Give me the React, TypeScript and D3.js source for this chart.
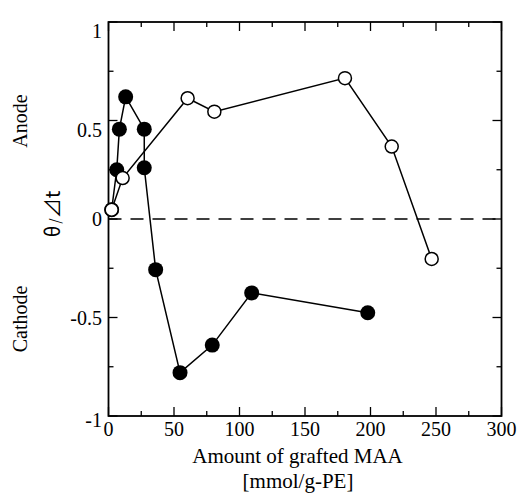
import React from "react";
import * as d3 from "d3";

// filled circles
const filledX = [2.4, 6.3, 8.3, 13.1, 27.3, 27.3, 36, 54.6, 79.2, 109.3, 197.9];
const filledY = [0.047, 0.25, 0.456, 0.62, 0.456, 0.26, -0.257, -0.78, -0.64, -0.375, -0.476];

// open circles
const openX = [2.4, 10.8, 60.4, 80.8, 180.5, 216.2, 246.7];
const openY = [0.047, 0.208, 0.613, 0.545, 0.715, 0.368, -0.203];

const xTicks = [0, 50, 100, 150, 200, 250, 300];
const yTicks = [-1, -0.5, 0, 0.5, 1];
const yTickLabels = ["-1", "-0.5", "0", "0.5", "1"];

const width = 519;
const height = 494;
const margin = { top: 22, right: 17.5, bottom: 78, left: 108.5 };

const App = () => {
  const x = d3
    .scaleLinear()
    .domain([0, 300])
    .range([margin.left, width - margin.right]);
  const y = d3
    .scaleLinear()
    .domain([-1, 1])
    .range([height - margin.bottom, margin.top]);

  const line = d3
    .line<[number, number]>()
    .x((d) => x(d[0]))
    .y((d) => y(d[1]));

  const filled: [number, number][] = filledX.map((v, i) => [v, filledY[i]]);
  const open: [number, number][] = openX.map((v, i) => [v, openY[i]]);

  const xMinor = d3.range(25, 300, 50);
  const yMinor = d3.range(-0.75, 1, 0.5);
  const serif = "'Liberation Serif', 'Times New Roman', serif";

  const x0 = x(0), x1 = x(300), yTop = y(1), yBot = y(-1);
  // the original labels above zero sit a little below their ticks
  const labelShift = (t: number) => (t > 0 ? 9 : t < -0.75 ? 4 : 0);

  return (
    <svg width={width} height={height} style={{ position: "absolute", left: 0, top: 0 }}>
      <rect width={width} height={height} fill="#fff" />
      {/* zero line */}
      <line x1={x0} x2={x1} y1={y(0)} y2={y(0)} stroke="#000" strokeWidth={1.5} strokeDasharray="13 9" />

      {/* ticks */}
      {xTicks.map((t) => (
        <g key={"xt" + t}>
          <line x1={x(t)} x2={x(t)} y1={yBot} y2={yBot - 9} stroke="#000" strokeWidth={1.3} />
          <line x1={x(t)} x2={x(t)} y1={yTop} y2={yTop + 9} stroke="#000" strokeWidth={1.3} />
          <text x={x(t)} y={435.5} textAnchor="middle" fontFamily={serif} fontSize={20}>
            {t}
          </text>
        </g>
      ))}
      {xMinor.map((t) => (
        <g key={"xm" + t}>
          <line x1={x(t)} x2={x(t)} y1={yBot} y2={yBot - 5} stroke="#000" strokeWidth={1.3} />
          <line x1={x(t)} x2={x(t)} y1={yTop} y2={yTop + 5} stroke="#000" strokeWidth={1.3} />
        </g>
      ))}
      {yTicks.map((t, i) => (
        <g key={"yt" + t}>
          <line x1={x0} x2={x0 + 9} y1={y(t)} y2={y(t)} stroke="#000" strokeWidth={1.3} />
          <line x1={x1} x2={x1 - 9} y1={y(t)} y2={y(t)} stroke="#000" strokeWidth={1.3} />
          <text x={x0 - 6.5} y={y(t) + labelShift(t)} dy="0.35em" textAnchor="end" fontFamily={serif} fontSize={20}>
            {yTickLabels[i]}
          </text>
        </g>
      ))}
      {yMinor.map((t) => (
        <g key={"ym" + t}>
          <line x1={x0} x2={x0 + 5} y1={y(t)} y2={y(t)} stroke="#000" strokeWidth={1.3} />
          <line x1={x1} x2={x1 - 5} y1={y(t)} y2={y(t)} stroke="#000" strokeWidth={1.3} />
        </g>
      ))}

      {/* frame */}
      <rect x={x0} y={yTop} width={x1 - x0} height={yBot - yTop} fill="none" stroke="#000" strokeWidth={1.8} />

      {/* series */}
      <path d={line(filled) ?? ""} fill="none" stroke="#000" strokeWidth={1.5} />
      <path d={line(open) ?? ""} fill="none" stroke="#000" strokeWidth={1.5} />
      {filled.map((d, i) => (
        <circle key={"f" + i} cx={x(d[0])} cy={y(d[1])} r={7.5} fill="#000" />
      ))}
      {open.map((d, i) => (
        <circle key={"o" + i} cx={x(d[0])} cy={y(d[1])} r={6.5} fill="#fff" stroke="#000" strokeWidth={1.5} />
      ))}

      {/* labels */}
      <text x={297.5} y={463} textAnchor="middle" fontFamily={serif} fontSize={21}>
        Amount of grafted MAA
      </text>
      <text x={298} y={488} textAnchor="middle" fontFamily={serif} fontSize={21}>
        [mmol/g-PE]
      </text>
      <text transform="translate(27,121) rotate(-90)" textAnchor="middle" fontFamily={serif} fontSize={20}>
        Anode
      </text>
      <text transform="translate(27,319) rotate(-90)" textAnchor="middle" fontFamily={serif} fontSize={20}>
        Cathode
      </text>
      <text transform="translate(60,214) rotate(-90)" textAnchor="middle" fontFamily="'Noto Sans CJK JP', 'DejaVu Sans', sans-serif" fontSize={20}>
        <tspan>θ</tspan>
        <tspan fontSize={14} dx={2}>/</tspan>
        <tspan>⊿t</tspan>
      </text>
    </svg>
  );
};

export default App;
